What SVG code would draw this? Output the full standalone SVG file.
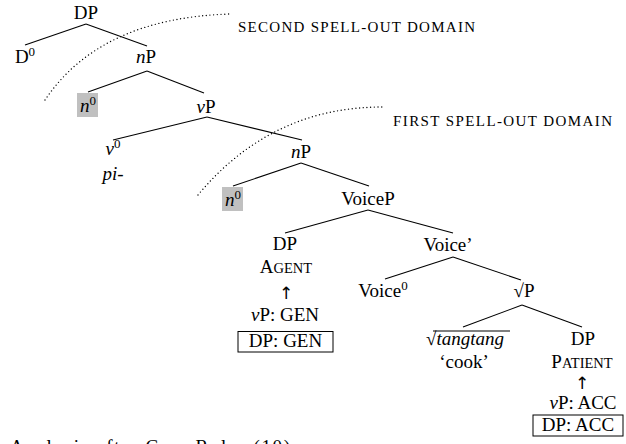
<svg xmlns="http://www.w3.org/2000/svg" width="626" height="444" viewBox="0 0 626 444">
  <style>
    text { font-family: "Liberation Serif", "DejaVu Serif", serif; font-size: 19px; fill: #000; text-anchor: middle; }
    .it { font-style: italic; }
    .sup { font-size: 13px; }
    .sc { font-size: 14.5px; }
    .arrow { font-family: "DejaVu Sans", sans-serif; font-size: 17px; }
    .dom { font-size: 15px; text-anchor: start; }
    .edge { stroke: #000; stroke-width: 1.1; fill: none; }
    .dots { stroke: #000; stroke-width: 1.4; fill: none; stroke-dasharray: 0 3.7; stroke-linecap: round; }
    .hl { fill: #c0c0c0; }
    .box { fill: none; stroke: #000; stroke-width: 1; }
  </style>

  <!-- spell-out domain boundaries -->
  <g id="domains">
    <path class="dots" d="M45,100 Q100,18 230,14"/>
    <text class="dom" x="238" y="32" textLength="237" lengthAdjust="spacing">SECOND SPELL-OUT DOMAIN</text>
    <path class="dots" d="M198,195 Q272,106 385,107"/>
    <text class="dom" x="393" y="126" textLength="219" lengthAdjust="spacing">FIRST SPELL-OUT DOMAIN</text>
  </g>

  <!-- tree branches -->
  <g id="connectors">
    <line class="edge" x1="86" y1="24" x2="25" y2="45"/>
    <line class="edge" x1="86" y1="24" x2="147" y2="46"/>
    <line class="edge" x1="147" y1="71" x2="88" y2="92"/>
    <line class="edge" x1="147" y1="71" x2="204" y2="93"/>
    <line class="edge" x1="207" y1="117" x2="113" y2="140"/>
    <line class="edge" x1="207" y1="117" x2="302" y2="140"/>
    <line class="edge" x1="301" y1="163" x2="233" y2="186"/>
    <line class="edge" x1="301" y1="163" x2="369" y2="186"/>
    <line class="edge" x1="368" y1="210" x2="285" y2="233"/>
    <line class="edge" x1="368" y1="210" x2="453" y2="233"/>
    <line class="edge" x1="453" y1="257" x2="385" y2="279"/>
    <line class="edge" x1="453" y1="257" x2="521" y2="280"/>
    <line class="edge" x1="522" y1="305" x2="463" y2="327"/>
    <line class="edge" x1="522" y1="305" x2="582" y2="327"/>
  </g>

  <g id="dp-top"><text x="86" y="19">DP</text></g>
  <g id="d0"><text x="25" y="63">D<tspan class="sup" dy="-7">0</tspan></text></g>
  <g id="np-1"><text x="146" y="63"><tspan class="it">n</tspan>P</text></g>
  <g id="n0-1">
    <rect class="hl" x="77" y="93" width="21" height="24"/>
    <text x="88" y="112"><tspan class="it">n</tspan><tspan class="sup" dy="-7">0</tspan></text>
  </g>
  <g id="vp"><text x="206" y="113"><tspan class="it">v</tspan>P</text></g>
  <g id="v0">
    <text x="113" y="155"><tspan class="it">v</tspan><tspan class="sup" dy="-7">0</tspan></text>
    <text class="it" x="113" y="180">pi-</text>
  </g>
  <g id="np-2"><text x="301" y="158"><tspan class="it">n</tspan>P</text></g>
  <g id="n0-2">
    <rect class="hl" x="222" y="187" width="21" height="24"/>
    <text x="233" y="206"><tspan class="it">n</tspan><tspan class="sup" dy="-7">0</tspan></text>
  </g>
  <g id="voicep"><text x="368" y="205">VoiceP</text></g>
  <g id="dp-agent">
    <text x="285" y="250">DP</text>
    <text x="286" y="273">A<tspan class="sc">GENT</tspan></text>
    <text class="arrow" x="286" y="299">↑</text>
    <text x="285" y="321"><tspan class="it">v</tspan>P: GEN</text>
    <rect class="box" x="238" y="331.5" width="95" height="20.5"/>
    <text x="285.5" y="347">DP: GEN</text>
  </g>
  <g id="voice-bar"><text x="448" y="251">Voice’</text></g>
  <g id="voice0"><text x="383" y="297">Voice<tspan class="sup" dy="-7">0</tspan></text></g>
  <g id="rootp"><text x="524" y="297">√P</text></g>
  <g id="root">
    <text x="465" y="345">√<tspan class="it">tangtang</tspan></text>
    <line class="edge" x1="433" y1="331" x2="510" y2="331"/>
    <text x="464" y="368">‘cook’</text>
  </g>
  <g id="dp-patient">
    <text x="583" y="345">DP</text>
    <text x="582" y="368">P<tspan class="sc">ATIENT</tspan></text>
    <text class="arrow" x="582" y="389">↑</text>
    <text x="583" y="409"><tspan class="it">v</tspan>P: ACC</text>
    <rect class="box" x="533" y="415" width="90" height="21"/>
    <text x="578" y="431">DP: ACC</text>
  </g>

  <text x="10" y="453" style="text-anchor:start" textLength="280" lengthAdjust="spacing">Analysis after Case Rules (10)</text>
</svg>
